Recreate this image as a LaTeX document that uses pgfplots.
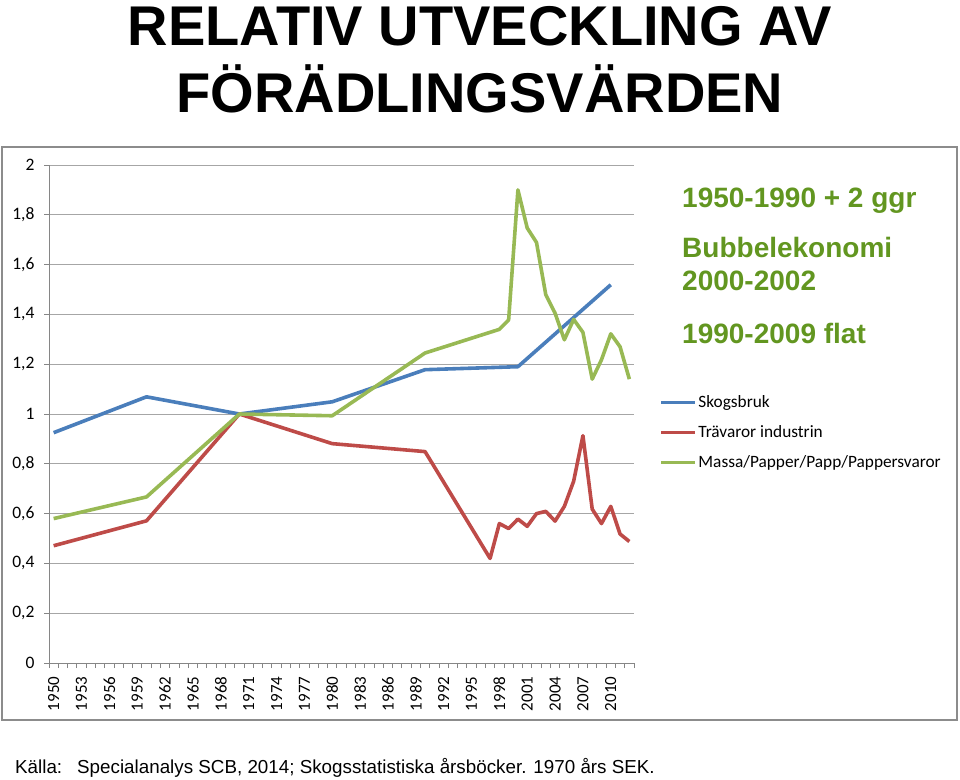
\documentclass[border=0pt]{standalone}
\usepackage{pgfplots}
\pgfplotsset{compat=1.18}
\usepackage{fontspec}
\setmainfont{Liberation Sans}
\newfontfamily\carlito{Carlito}
\definecolor{sblue}{RGB}{74,126,187}
\definecolor{sred}{RGB}{190,75,72}
\definecolor{sgreen}{RGB}{152,185,84}
\definecolor{agreen}{RGB}{98,150,32}
\definecolor{gridgray}{RGB}{166,166,166}
\definecolor{axgray}{RGB}{134,134,134}
\definecolor{framegray}{RGB}{140,140,140}
\begin{document}
\begin{tikzpicture}[x=1pt,y=1pt]
\path[use as bounding box] (0,0) rectangle (960,-779);
\draw[framegray, line width=1.5pt] (2,-147) rectangle (957,-720);
\begin{axis}[
  at={(49pt,-663pt)}, anchor=south west,
  scale only axis, width=585pt, height=498pt,
  xmin=1949.5, xmax=2012.5, ymin=0, ymax=2,
  axis lines=left,
  axis line style={-, draw=axgray, line width=1pt},
  tick align=outside,
  xtick={1950,1953,...,2010},
  minor xtick={1949.5,1950.5,...,2012.5},
  major x tick style={draw=none},
  minor x tick style={draw=axgray, line width=0.8pt},
  y tick style={draw=axgray, line width=0.8pt},
  minor tick length=5pt, major tick length=5pt,
  ytick={0,0.2,0.4,0.6,0.8,1,1.2,1.4,1.6,1.8,2},
  ymajorgrids, major grid style={draw=gridgray, line width=1pt},
  yticklabel style={font=\carlito\fontsize{17.5}{17.5}\selectfont, xshift=-6pt},
  xticklabel shift=5pt,
  xticklabel style={font=\carlito\fontsize{17}{17}\selectfont, rotate=90, anchor=east},
  x tick label style={/pgf/number format/1000 sep={}},
  /pgf/number format/use comma,
  /pgf/number format/assume math mode=true,
  legend style={at={(1.044,0.541)}, anchor=north west, draw=none, fill=none,
    font=\carlito\fontsize{17.3}{17.3}\selectfont, row sep=12.5pt, inner sep=0pt,
    cells={anchor=west}},
  legend image code/.code={\draw[#1, line width=2.5pt] (0pt,0pt) -- (34pt,0pt);},
  every axis plot/.append style={line width=3.6pt, line join=round, no marks},
]
\addplot[sblue] table {
x y
1950 0.925
1960 1.069
1970 1.000
1980 1.049
1990 1.178
2000 1.190
2010 1.519
};
\addlegendentry{Skogsbruk}
\addplot[sred] table {
x y
1950 0.471
1960 0.571
1970 1.000
1980 0.881
1990 0.849
1997 0.420
1998 0.560
1999 0.540
2000 0.578
2001 0.549
2002 0.600
2003 0.609
2004 0.570
2005 0.629
2006 0.730
2007 0.913
2008 0.618
2009 0.560
2010 0.629
2011 0.518
2012 0.488
};
\addlegendentry{Trävaror industrin}
\addplot[sgreen] table {
x y
1950 0.580
1960 0.667
1970 1.000
1980 0.993
1990 1.245
1998 1.340
1999 1.378
2000 1.900
2001 1.747
2002 1.689
2003 1.479
2004 1.405
2005 1.298
2006 1.380
2007 1.328
2008 1.140
2009 1.218
2010 1.322
2011 1.270
2012 1.140
};
\addlegendentry{Massa/Papper/Papp/Pappersvaror}
\end{axis}
\node[anchor=base, font=\bfseries\fontsize{56}{56}\selectfont, inner sep=0] at (480,-45) {RELATIV UTVECKLING AV};
\node[anchor=base, font=\bfseries\fontsize{56}{56}\selectfont, inner sep=0] at (480,-112) {FÖRÄDLINGSVÄRDEN};
\begin{scope}[every node/.style={anchor=base west, text=agreen, font=\bfseries\fontsize{28}{28}\selectfont, inner sep=0}]
\node at (682,-207) {1950-1990 + 2 ggr};
\node at (682,-257) {Bubbelekonomi};
\node at (682,-290) {2000-2002};
\node at (682,-343) {1990-2009 flat};
\end{scope}
\node[anchor=base west, font=\fontsize{18.8}{18.8}\selectfont, inner sep=0] at (15,-773) {Källa:\hspace{15pt}Specialanalys SCB, 2014; Skogsstatistiska årsböcker. 1970 års SEK.};
\end{tikzpicture}
\end{document}
